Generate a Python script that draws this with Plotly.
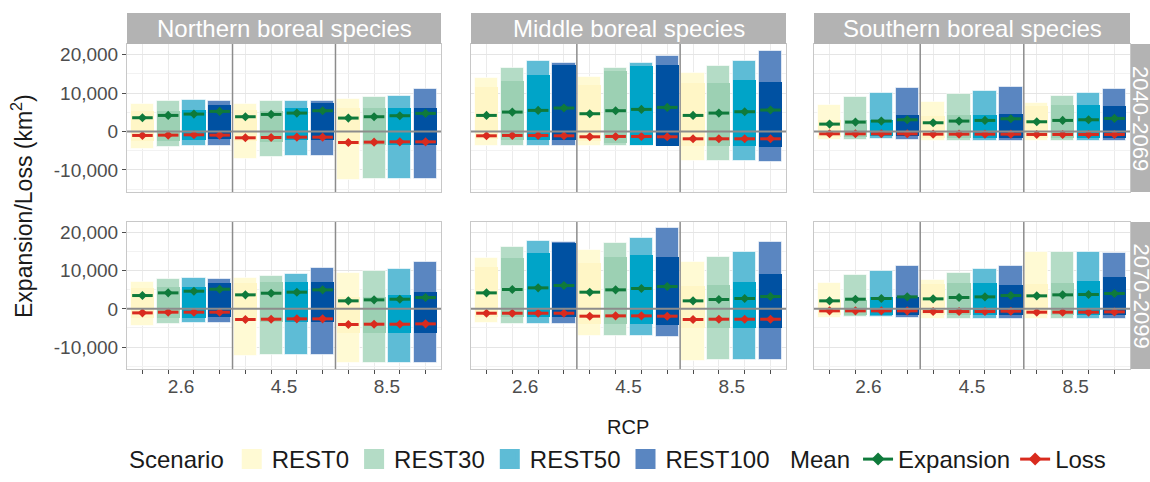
import plotly.graph_objects as go
from plotly.subplots import make_subplots

species = ["Northern boreal species", "Middle boreal species", "Southern boreal species"]
periods = ["2040-2069", "2070-2099"]
rcps = ["2.6", "4.5", "8.5"]
scenarios = ["REST0", "REST30", "REST50", "REST100"]
y_ticks = [-10000, 0, 10000, 20000]
y_ticktext = ["-10,000", "0", "10,000", "20,000"]

# Panel order: N 2040, M 2040, S 2040, N 2070, M 2070, S 2070
# Each list: RCP2.6 (REST0, REST30, REST50, REST100), RCP4.5 (...), RCP8.5 (...)
range_max = [
    [7130, 8000, 8260, 7900, 7130, 7830, 8000, 7830, 8430, 8960, 9300, 11130],
    [13830, 16600, 18350, 17830, 14170, 16520, 17740, 19740, 15300, 17130, 18350, 21040],
    [6780, 8960, 9910, 11220, 7740, 9740, 10520, 11650, 7480, 9300, 10000, 11040],
    [6990, 7860, 8120, 7770, 8210, 8730, 9080, 10830, 9520, 10040, 10390, 12230],
    [13450, 16240, 17900, 17470, 15370, 17290, 18520, 21220, 12310, 13710, 14930, 17470],
    [6810, 9000, 9960, 11270, 7690, 9520, 10390, 11350, 14850, 15020, 15020, 14670],
]
range_min = [
    [-4520, -4000, -3740, -3900, -7220, -6600, -6350, -6430, -12700, -12430, -12430, -12430],
    [-3740, -3740, -3740, -3740, -3740, -3740, -3740, -3900, -7740, -7650, -7650, -7910],
    [-2170, -2170, -2090, -2260, -2430, -2430, -2430, -2520, -2520, -2520, -2520, -2520],
    [-4370, -3840, -3580, -3760, -12310, -12050, -12050, -12050, -14060, -14060, -14060, -14060],
    [-3760, -3840, -3840, -3840, -7160, -7070, -6990, -7250, -13620, -13360, -13360, -13450],
    [-2360, -2180, -2100, -2270, -2530, -2530, -2530, -2530, -2530, -2530, -2530, -2530],
]
inner_max = [
    [5200, 5200, 5650, 6780, 5600, 5400, 6090, 7390, 6000, 6090, 6170, 6090],
    [11500, 13200, 14600, 17200, 12000, 15650, 17040, 17390, 12500, 12600, 13300, 12870],
    [3000, 3000, 3040, 4260, 4000, 4260, 4260, 4430, 6500, 6780, 6870, 6520],
    [5500, 5680, 5850, 6720, 6800, 6990, 6990, 6990, 3200, 3230, 3670, 4370],
    [11000, 13280, 14590, 17200, 12000, 13540, 14150, 13710, 6000, 6290, 7160, 9170],
    [2400, 2360, 3230, 3230, 6500, 6720, 6720, 6380, 6500, 6720, 7420, 8470],
]
inner_min = [
    [-2500, -2500, -2170, -2000, -2600, -2700, -2170, -2170, -3400, -3480, -3480, -3480],
    [-2000, -2170, -2170, -2170, -2500, -3000, -3500, -3700, -3910, -3910, -3910, -4090],
    [-1500, -1500, -1300, -1300, -1700, -1700, -1700, -1700, -1800, -1800, -1800, -1800],
    [-2500, -2500, -2300, -2000, -3300, -3320, -3320, -3320, -6380, -6380, -6380, -6380],
    [-2100, -2180, -2180, -2180, -3930, -3930, -3930, -4190, -5070, -5070, -4890, -4890],
    [-1500, -1500, -1500, -1500, -1700, -1700, -1700, -1700, -1700, -1700, -1700, -1700],
]
mean_expansion = [
    [3570, 4170, 4520, 5220, 3830, 4430, 4780, 5390, 3480, 3830, 4090, 4700],
    [4170, 5040, 5480, 6090, 4610, 5390, 5740, 6260, 4170, 4780, 5130, 5570],
    [1910, 2430, 2700, 3040, 2260, 2700, 2870, 3300, 2520, 2870, 3040, 3390],
    [3490, 4190, 4630, 5150, 3670, 4100, 4370, 4980, 2100, 2360, 2530, 2970],
    [4190, 5070, 5500, 6110, 4370, 4980, 5330, 5850, 2100, 2450, 2710, 3230],
    [2100, 2530, 2710, 3140, 2620, 2970, 3140, 3490, 3410, 3670, 3760, 4020],
]
mean_loss = [
    [-1040, -960, -870, -960, -1650, -1570, -1480, -1480, -2870, -2780, -2700, -2700],
    [-1130, -1040, -1040, -1130, -1390, -1300, -1300, -1390, -1910, -1910, -1910, -1910],
    [-610, -610, -610, -610, -700, -700, -700, -700, -780, -780, -780, -780],
    [-1050, -870, -870, -870, -2790, -2710, -2620, -2620, -4100, -4020, -4020, -3930],
    [-1140, -1140, -1140, -1140, -1920, -1830, -1830, -1920, -2790, -2710, -2710, -2710],
    [-520, -520, -520, -520, -700, -700, -700, -610, -870, -870, -870, -790],
]

outer_colors = ["#FFFAD4", "#B4DCC6", "#5EBCD6", "#5A86C1"]
inner_colors = ["#FFF6C6", "#9CD0B3", "#00A4C8", "#0051A2"]
green = "#0F7A3B"
red = "#D92B1E"
FONT = "Liberation Sans, Arial, sans-serif"

W, H = 1150, 482
col_px = [(127, 441), (471, 786), (814, 1130)]
row_px = [(44, 192), (222, 369)]
col_dom = [[a / W, b / W] for a, b in col_px]
row_dom = [[1 - b / H, 1 - a / H] for a, b in row_px]

fig = make_subplots(rows=2, cols=3)

n_rcp, n_sc = len(rcps), len(scenarios)
positions = [r * n_sc + s + 1 for r in range(n_rcp) for s in range(n_sc)]

for p in range(6):
    row, col = p // 3 + 1, p % 3 + 1
    for s in range(n_sc):
        idx = [r * n_sc + s for r in range(n_rcp)]
        xs = [positions[i] for i in idx]
        fig.add_trace(go.Bar(
            x=xs, y=[range_max[p][i] - range_min[p][i] for i in idx],
            base=[range_min[p][i] for i in idx], width=0.9,
            marker=dict(color=outer_colors[s], line=dict(width=1, color="rgba(255,255,255,0.6)")),
            showlegend=False, hoverinfo="skip"), row=row, col=col)
        fig.add_trace(go.Bar(
            x=xs, y=[inner_max[p][i] - inner_min[p][i] for i in idx],
            base=[inner_min[p][i] for i in idx], width=0.9,
            marker=dict(color=inner_colors[s], line=dict(width=0)),
            showlegend=False, hoverinfo="skip"), row=row, col=col)
    for vals, colr in ((mean_expansion[p], green), (mean_loss[p], red)):
        fig.add_trace(go.Scatter(
            x=positions, y=vals, mode="markers",
            marker=dict(symbol="diamond", size=7, color=colr),
            error_x=dict(type="constant", value=0.4, color=colr, thickness=3, width=0),
            showlegend=False, hoverinfo="skip"), row=row, col=col)

# legend entries
for s in range(n_sc):
    fig.add_trace(go.Scatter(x=[None], y=[None], mode="markers", name=scenarios[s],
                             marker=dict(symbol="square", size=16, color=outer_colors[s],
                                         line=dict(width=4, color=outer_colors[s])),
                             legend="legend"), row=1, col=1)
for nm, colr in (("Expansion", green), ("Loss", red)):
    fig.add_trace(go.Scatter(x=[None], y=[None], mode="lines+markers", name=nm,
                             line=dict(color=colr, width=3),
                             marker=dict(symbol="diamond", size=10, color=colr),
                             legend="legend2"), row=1, col=1)

shapes = []
annotations = []
for p in range(6):
    r, c = p // 3, p % 3
    ax = "" if p == 0 else str(p + 1)
    xa = dict(
        domain=col_dom[c], range=[0.4, 12.6], showgrid=False, ticks="",
        tickfont=dict(size=19, color="#4D4D4D", family=FONT),
        minor=dict(tickvals=positions, showgrid=True, gridcolor="#EBEBEB", gridwidth=1,
                   ticks="outside" if r == 1 else "", ticklen=4, tickcolor="#4D4D4D"),
        showline=True, mirror=True, linecolor="#C8C8C8", linewidth=1,
        zeroline=False, fixedrange=True)
    if r == 1:
        xa.update(tickvals=[2.5, 6.5, 10.5], ticktext=rcps, showticklabels=True)
    else:
        xa.update(tickvals=[2.5, 6.5, 10.5], showticklabels=False)
    fig.layout["xaxis" + ax].update(**xa)
    fig.layout["yaxis" + ax].update(
        domain=row_dom[r], range=[-15750, 22750], tickvals=y_ticks,
        ticktext=y_ticktext, showticklabels=(c == 0),
        ticks="outside" if c == 0 else "", ticklen=4, tickcolor="#4D4D4D",
        tickfont=dict(size=19, color="#4D4D4D", family=FONT),
        showgrid=True, gridcolor="#E5E5E5", gridwidth=1,
        minor=dict(tickvals=[-15000, -5000, 5000, 15000], showgrid=True,
                   gridcolor="#F2F2F2", gridwidth=1),
        showline=True, mirror=True, linecolor="#C8C8C8", linewidth=1,
        zeroline=False, fixedrange=True)
    xr, yr = "x" + ax, "y" + ax
    shapes.append(dict(type="line", xref=xr + " domain", yref=yr, x0=0, x1=1, y0=0, y1=0,
                       line=dict(color="#8C8C8C", width=2), layer="above"))
    for sep in (n_sc + 0.5, 2 * n_sc + 0.5):
        shapes.append(dict(type="line", xref=xr, yref=yr + " domain", x0=sep, x1=sep, y0=0, y1=1,
                           line=dict(color="#8C8C8C", width=1.5), layer="above"))

# top strips
for c in range(3):
    x0, x1 = col_dom[c]
    shapes.append(dict(type="rect", xref="paper", yref="paper", x0=x0, x1=x1,
                       y0=1 - 44 / H, y1=1 - 13 / H, fillcolor="#B3B3B3", line=dict(width=0)))
    annotations.append(dict(text=species[c], xref="paper", yref="paper", x=(x0 + x1) / 2,
                            y=1 - 28.5 / H, showarrow=False, xanchor="center", yanchor="middle",
                            font=dict(size=24, color="white", family=FONT)))
# right strips
for r in range(2):
    y0, y1 = row_dom[r]
    shapes.append(dict(type="rect", xref="paper", yref="paper", x0=1131 / W, x1=1.0,
                       y0=y0, y1=y1, fillcolor="#B3B3B3", line=dict(width=0)))
    annotations.append(dict(text=periods[r], xref="paper", yref="paper", x=1141 / W,
                            y=(y0 + y1) / 2, showarrow=False, textangle=90,
                            xanchor="center", yanchor="middle",
                            font=dict(size=22, color="white", family=FONT)))

annotations.append(dict(text="Expansion/Loss (km<sup>2</sup>)", xref="paper", yref="paper",
                        x=22 / W, y=1 - 206 / H, showarrow=False, textangle=-90,
                        xanchor="center", yanchor="middle",
                        font=dict(size=23, color="#1A1A1A", family=FONT)))
annotations.append(dict(text="RCP", xref="paper", yref="paper", x=628 / W, y=1 - 427 / H,
                        showarrow=False, xanchor="center", yanchor="middle",
                        font=dict(size=20, color="#1A1A1A", family=FONT)))

fig.update_layout(
    width=W, height=H, margin=dict(l=0, r=0, t=0, b=0),
    paper_bgcolor="white", plot_bgcolor="white", barmode="overlay", bargap=0,
    font=dict(family=FONT, color="#1A1A1A"),
    shapes=shapes, annotations=annotations,
    legend=dict(orientation="h", x=127 / W, y=0, xanchor="left", yanchor="bottom",
                title=dict(text="Scenario", side="left", font=dict(size=24)),
                font=dict(size=24, family=FONT), bgcolor="rgba(0,0,0,0)",
                itemwidth=30, tracegroupgap=0),
    legend2=dict(orientation="h", x=788 / W, y=0, xanchor="left", yanchor="bottom",
                 title=dict(text="Mean", side="left", font=dict(size=24)),
                 font=dict(size=24, family=FONT), bgcolor="rgba(0,0,0,0)",
                 itemwidth=30, tracegroupgap=0),
)

fig.write_html("out.html", config={"displayModeBar": False},
               post_script="document.body.style.margin='0px';")
